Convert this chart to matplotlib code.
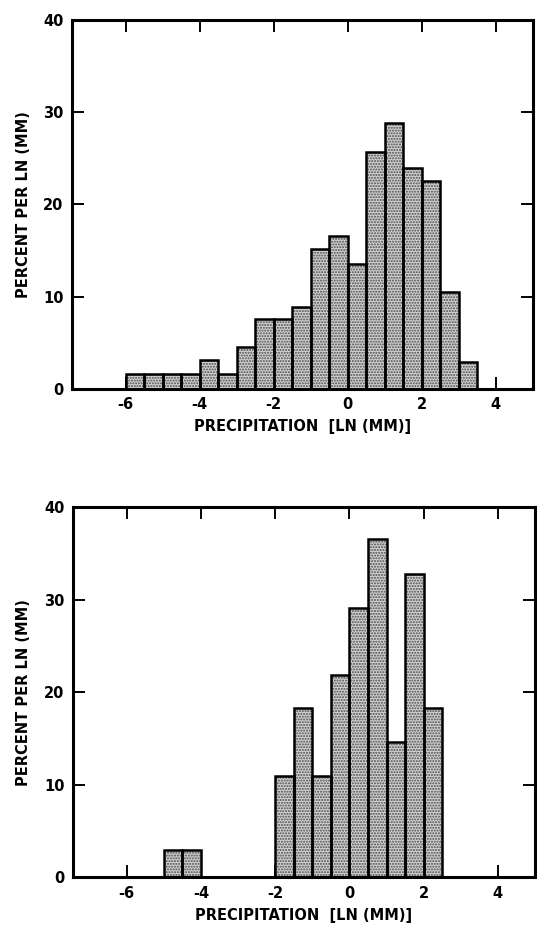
import matplotlib
matplotlib.use("Agg")
import matplotlib.pyplot as plt
import numpy as np

# bin left edges (ln mm) and percent per ln(mm)
top_edges = [-6.0, -5.5, -5.0, -4.5, -4.0, -3.5, -3.0, -2.5, -2.0, -1.5,
             -1.0, -0.5, 0.0, 0.5, 1.0, 1.5, 2.0, 2.5, 3.0]
top_pct = [1.6, 1.6, 1.6, 1.6, 3.1, 1.6, 4.6, 7.6, 7.6, 8.9,
           15.2, 16.6, 13.5, 25.7, 28.8, 24.0, 22.5, 10.5, 2.9]

bot_edges = [-5.0, -4.5, -2.0, -1.5, -1.0, -0.5, 0.0, 0.5, 1.0, 1.5, 2.0]
bot_pct = [2.9, 2.9, 11.0, 18.3, 11.0, 21.9, 29.1, 36.6, 14.6, 32.8, 18.3]

bin_w = 0.5
xticks = [-6, -4, -2, 0, 2, 4]
yticks = [0, 10, 20, 30, 40]

plt.rcParams['font.family'] = ['DejaVu Sans']
plt.rcParams['axes.unicode_minus'] = False
plt.rcParams['hatch.linewidth'] = 1.0

fig = plt.figure(figsize=(5.37, 9.32), dpi=100)
ax1 = fig.add_axes([0.134, 0.5826, 0.858, 0.396])
ax2 = fig.add_axes([0.1354, 0.0587, 0.861, 0.397])


def draw_hist(ax, edges, pct):
    ax.bar(edges, pct, width=bin_w, align='edge', color='#d2d2d2',
           edgecolor='#4a4a4a', linewidth=0, hatch='......', zorder=2)
    ax.bar(edges, pct, width=bin_w, align='edge', fill=False,
           edgecolor='black', linewidth=1.8, zorder=3)
    ax.set_xlim(-7.45, 5.0)
    ax.set_ylim(0, 40)
    ax.set_xticks(xticks)
    ax.set_yticks(yticks)
    ax.set_axisbelow(True)
    ax.tick_params(direction='in', length=8.5, width=1.4, top=True, right=True,
                   labelsize=10.5, pad=6)
    for lab in ax.get_xticklabels() + ax.get_yticklabels():
        lab.set_fontweight('semibold')
    for sp in ax.spines.values():
        sp.set_linewidth(2.2)
    ax.set_xlabel('PRECIPITATION  [LN (MM)]', fontsize=10.5,
                  fontweight='semibold', labelpad=5)
    ax.set_ylabel('PERCENT PER LN (MM)', fontsize=10.5, fontweight='semibold',
                  labelpad=9)


draw_hist(ax1, top_edges, top_pct)
draw_hist(ax2, bot_edges, bot_pct)

fig.savefig('out.png', dpi=100)
